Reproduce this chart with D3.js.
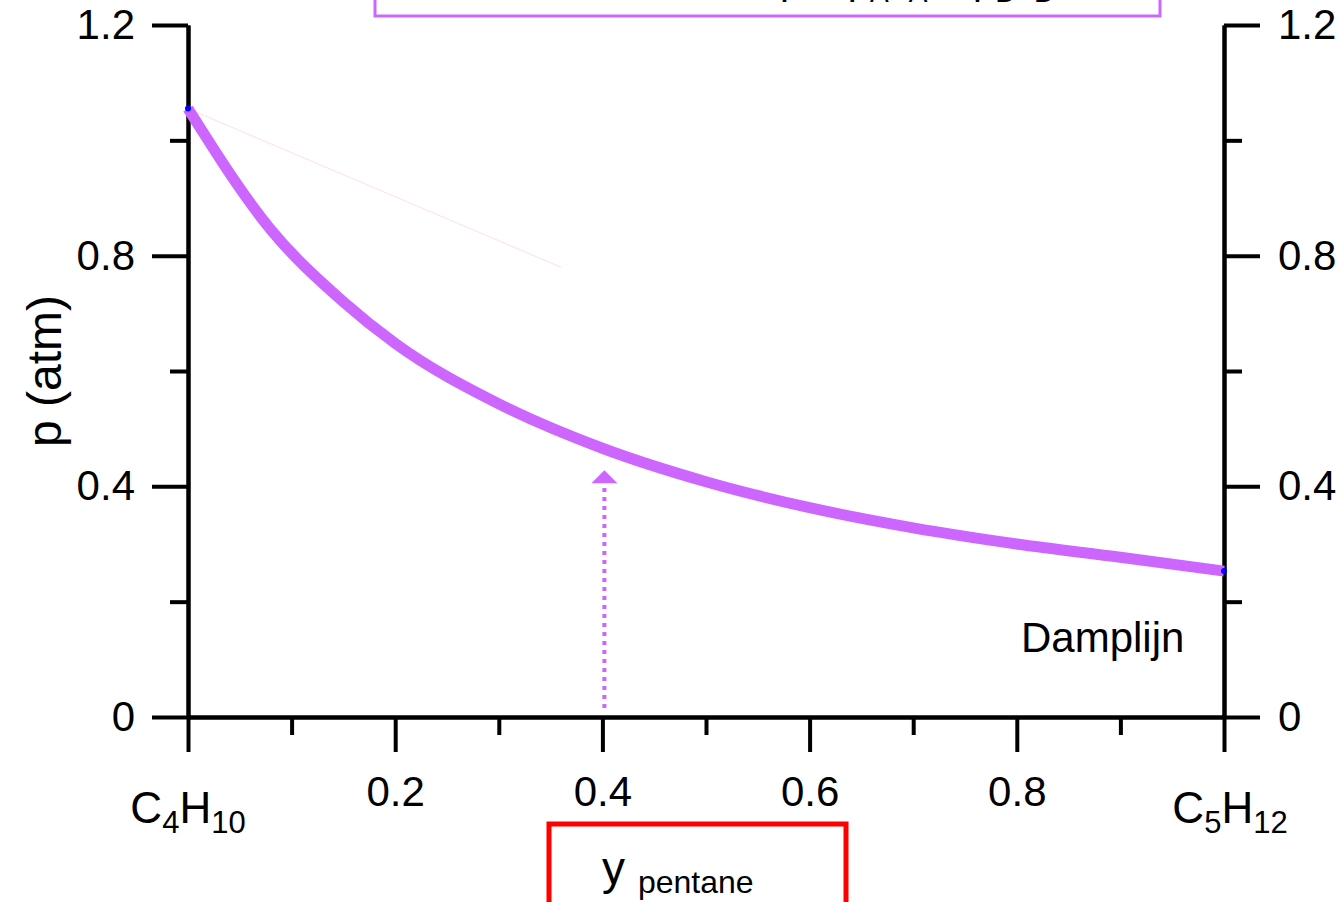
<!DOCTYPE html>
<html>
<head>
<meta charset="utf-8">
<script src="https://cdn.jsdelivr.net/npm/d3@7"></script>
<style>
  body { margin: 0; background: #fff; }
  svg { font-family: "Liberation Sans", Arial, sans-serif; }
</style>
</head>
<body>
<svg id="chart" width="1343" height="902"></svg>
<script>
// dew line (Damplijn)
var yPentane = [0, 0.08, 0.15, 0.2, 0.3, 0.4, 0.5, 0.6, 0.7, 0.8, 0.9, 1];
var pressure = [1.055, 0.845, 0.72, 0.648, 0.543, 0.466, 0.408, 0.363, 0.328, 0.3, 0.277, 0.253];
// faint leftover line near the top-left
var faintX = [0, 0.36];
var faintP = [1.055, 0.78];
var xMajor = [0, 0.2, 0.4, 0.6, 0.8, 1];
var xMinor = [0.1, 0.3, 0.5, 0.7, 0.9];
var yMajor = [0, 0.4, 0.8, 1.2];
var yMinor = [0.2, 0.6, 1.0];
var arrowAt = 0.4;

var purple = "#cc66ff";
var svg = d3.select("#chart");

var x = d3.scaleLinear().domain([0, 1]).range([188, 1224]);
var y = d3.scaleLinear().domain([0, 1.2]).range([717, 25]);

function styleAxis(g) {
  g.selectAll("path").attr("stroke", "#000").attr("stroke-width", 4);
  g.selectAll("line").attr("stroke", "#000").attr("stroke-width", 4);
  g.selectAll("text").attr("font-size", 42).attr("fill", "#000");
}

// minor ticks
svg.append("g").attr("transform", "translate(188,0)")
  .call(d3.axisLeft(y).tickValues(yMinor).tickSize(18).tickSizeOuter(0).tickFormat(""))
  .call(styleAxis);
svg.append("g").attr("transform", "translate(1224,0)")
  .call(d3.axisRight(y).tickValues(yMinor).tickSize(18).tickSizeOuter(0).tickFormat(""))
  .call(styleAxis);
svg.append("g").attr("transform", "translate(0,717)")
  .call(d3.axisBottom(x).tickValues(xMinor).tickSize(18).tickSizeOuter(0).tickFormat(""))
  .call(styleAxis);

// major ticks
var fmt = function (d) { return d === 0 ? "0" : d3.format(".1f")(d); };
svg.append("g").attr("transform", "translate(188,0)")
  .call(d3.axisLeft(y).tickValues(yMajor).tickSize(36).tickPadding(17).tickSizeOuter(0).tickFormat(fmt))
  .call(styleAxis);
svg.append("g").attr("transform", "translate(1224,0)")
  .call(d3.axisRight(y).tickValues(yMajor).tickSize(36).tickPadding(18).tickSizeOuter(0).tickFormat(fmt))
  .call(styleAxis);
svg.append("g").attr("transform", "translate(0,717)")
  .call(d3.axisBottom(x).tickValues(xMajor).tickSize(35).tickPadding(24).tickSizeOuter(0)
    .tickFormat(function (d) { return (d === 0 || d === 1) ? "" : d3.format(".1f")(d); }))
  .call(styleAxis);

// end labels C4H10 / C5H12
function formula(px, parts) {
  var t = svg.append("text").attr("x", px).attr("y", 823)
    .attr("text-anchor", "middle").attr("font-size", 44);
  parts.forEach(function (p) {
    t.append("tspan").text(p[0])
      .attr("font-size", p[1] ? 31 : 44)
      .attr("dy", p[1] ? 10 : -10 * (p[2] || 0));
  });
}
formula(x(0), [["C", false], ["4", true], ["H", false, 1], ["10", true]]);
formula(x(1) + 6, [["C", false], ["5", true], ["H", false, 1], ["12", true]]);

// axis title
svg.append("text")
  .attr("transform", "translate(61," + y(0.6) + ") rotate(-90)")
  .attr("text-anchor", "middle").attr("font-size", 48).text("p (atm)");

// faint line
svg.append("path")
  .datum(d3.zip(faintX, faintP))
  .attr("d", d3.line().x(function (d) { return x(d[0]); }).y(function (d) { return y(d[1]); }))
  .attr("stroke", "#ff6666").attr("stroke-opacity", 0.2).attr("stroke-width", 1).attr("fill", "none");

// dew line
var line = d3.line().curve(d3.curveMonotoneX)
  .x(function (d) { return x(d[0]); }).y(function (d) { return y(d[1]); });
var pts = d3.zip(yPentane, pressure);
svg.append("path").datum(pts).attr("d", line)
  .attr("stroke", "#0000ff").attr("stroke-width", 2).attr("fill", "none")
  .attr("transform", "translate(1,2)");
svg.append("path").datum(pts).attr("d", line)
  .attr("stroke", purple).attr("stroke-width", 11).attr("fill", "none");
svg.selectAll("circle.end").data([pts[0], pts[pts.length - 1]]).enter()
  .append("circle").attr("class", "end")
  .attr("cx", function (d) { return x(d[0]); })
  .attr("cy", function (d) { return y(d[1]); })
  .attr("r", 3).attr("fill", "#0000ff");

// dotted arrow
svg.append("line")
  .attr("x1", x(arrowAt) + 2).attr("x2", x(arrowAt) + 2)
  .attr("y1", y(0) - 9).attr("y2", y(0.405))
  .attr("stroke", purple).attr("stroke-width", 4).attr("stroke-dasharray", "4,5");
var ax = x(arrowAt) + 2, ay = y(0.428);
svg.append("path")
  .attr("d", "M" + (ax - 13) + "," + (ay + 13) + "L" + ax + "," + ay + "L" + (ax + 13) + "," + (ay + 13) + "Z")
  .attr("fill", purple);

// Damplijn label
svg.append("text").attr("x", 1021).attr("y", 652).attr("font-size", 42).text("Damplijn");

// top box (clipped at the top edge, as in the original)
svg.append("rect").attr("x", 375).attr("y", -40).attr("width", 785).attr("height", 56)
  .attr("fill", "none").attr("stroke", purple).attr("stroke-width", 3);
var tt = svg.append("text").attr("x", 780).attr("y", -6).attr("font-size", 40);
tt.append("tspan").text("p = p");
tt.append("tspan").text("A").attr("font-size", 28).attr("dy", 8);
tt.append("tspan").text("x").attr("dy", -8);
tt.append("tspan").text("A").attr("font-size", 28).attr("dy", 8);
tt.append("tspan").text(" + p").attr("dy", -8);
tt.append("tspan").text("B").attr("font-size", 28).attr("dy", 8);
tt.append("tspan").text("x").attr("dy", -8);
tt.append("tspan").text("B").attr("font-size", 28).attr("dy", 8);

// bottom box with axis title
svg.append("rect").attr("x", 549).attr("y", 824).attr("width", 297).attr("height", 100)
  .attr("fill", "none").attr("stroke", "#ff0000").attr("stroke-width", 5);
var xt = svg.append("text").attr("x", 602).attr("y", 884).attr("font-size", 46);
xt.append("tspan").text("y");
xt.append("tspan").text(" pentane").attr("font-size", 32).attr("dy", 9).attr("dx", 4);
</script>
</body>
</html>
